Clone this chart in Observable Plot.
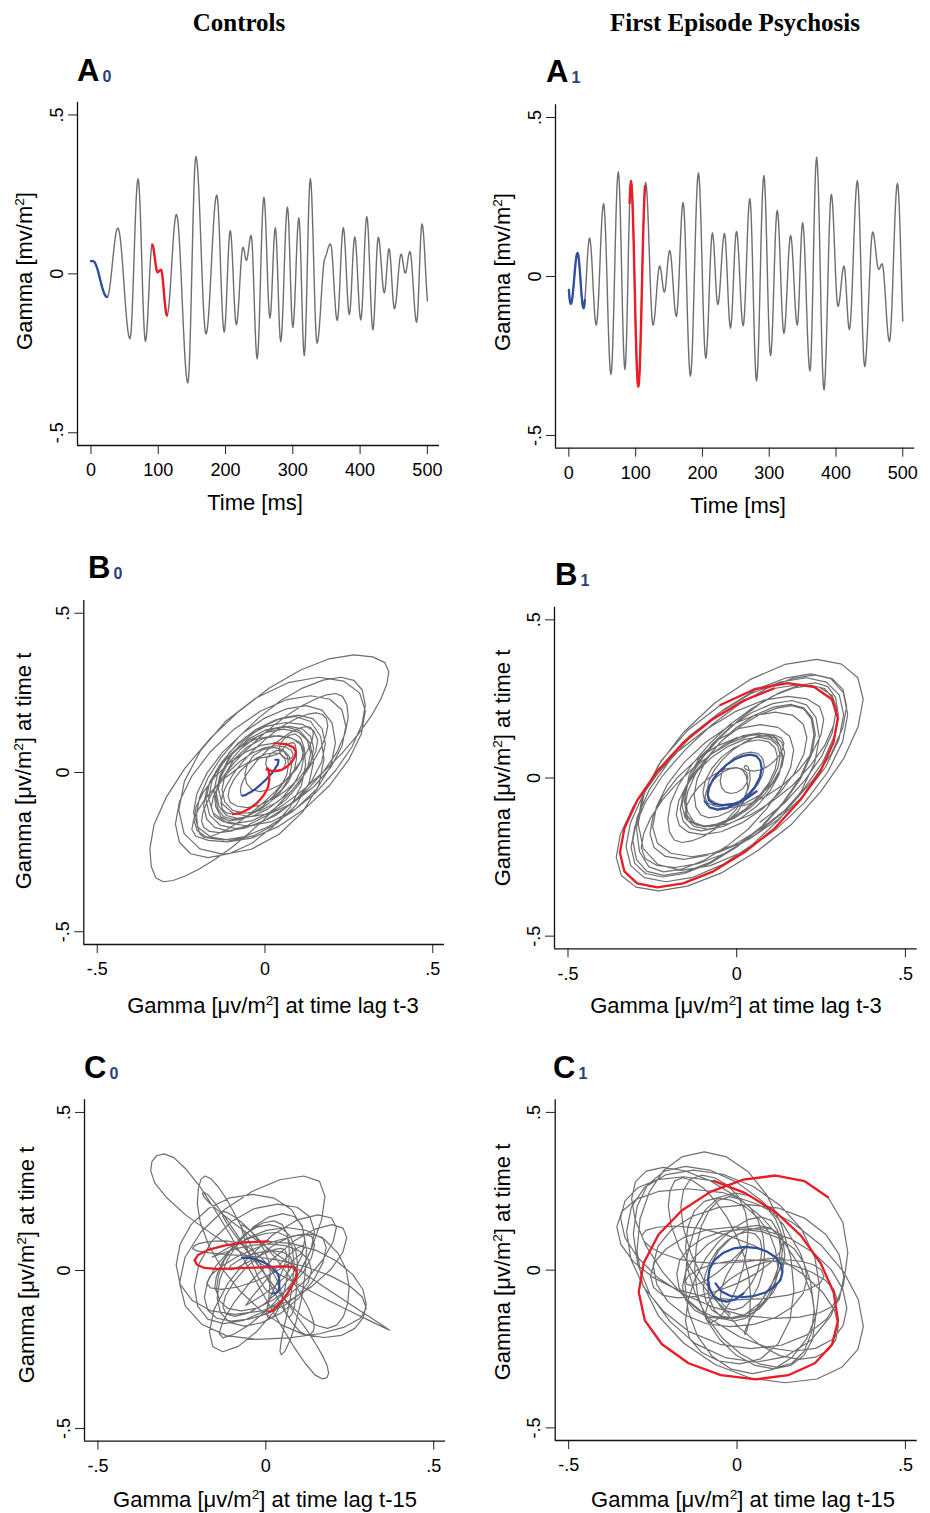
<!DOCTYPE html>
<html>
<head>
<meta charset="utf-8">
<script src="https://cdn.jsdelivr.net/npm/d3@7"></script>
<script src="https://cdn.jsdelivr.net/npm/@observablehq/plot@0.6"></script>
<style>
  html, body { margin: 0; padding: 0; background: #fff; }
  #fig { position: relative; width: 930px; height: 1513px; font-family: "Liberation Sans", Arial, sans-serif; color: #000; overflow: hidden; }
  .hdr { position: absolute; font-family: "Liberation Serif", "Times New Roman", serif; font-weight: bold; font-size: 25px; line-height: 1; transform: translate(-50%, -50%); white-space: nowrap; }
  .plab { position: absolute; font-weight: bold; font-size: 31px; line-height: 1; white-space: nowrap; }
  .plab .sub { font-size: 16px; color: #2c3e7c; margin-left: 3px; position: relative; top: 1px; }
  .xt { position: absolute; font-size: 22px; line-height: 1; transform: translate(-50%, -50%); white-space: nowrap; }
  .yt { position: absolute; font-size: 22px; line-height: 1; transform: translate(-50%, -50%) rotate(-90deg); white-space: nowrap; }
  sup { font-size: 0.62em; vertical-align: 0.62em; line-height: 0; }
  svg { position: absolute; }
</style>
</head>
<body>
<div id="fig"></div>
<script>
// ---------------- data (1 ms sampling) ----------------
const groups = ["Controls", "First Episode Psychosis"];
const timeTicks = [0, 100, 200, 300, 400, 500];
const gammaTicks = [-0.5, 0, 0.5];
const gammaTickLabels = ["-.5", "0", ".5"];
const lagB = 3;   // ms
const lagC = 15;  // ms

const preA0 = [-.071,-.068,-.063,-.056,-.047,-.037,-.027,-.016,-.005,.005,.015,.024,.031,.036,.039];
// Controls, gamma at t = 0 .. 500 ms
const A0 = [
 .040,.040,.040,.040,.039,.038,.034,.030,.025,.019,
 .012,.004,-.004,-.012,-.021,-.029,-.037,-.045,-.052,-.058,
 -.063,-.067,-.071,-.072,-.073,-.071,-.065,-.055,-.041,-.025,
 -.006,.014,.036,.057,.077,.096,.112,.126,.136,.142,
 .144,.141,.133,.121,.103,.082,.057,.030,.000,-.030,
 -.060,-.090,-.117,-.142,-.163,-.181,-.193,-.201,-.204,-.195,
 -.170,-.131,-.078,-.017,.047,.112,.173,.226,.265,.290,
 .299,.289,.259,.211,.151,.080,.007,-.064,-.124,-.172,
 -.202,-.212,-.205,-.183,-.149,-.107,-.060,-.013,.029,.063,
 .085,.092,.089,.079,.065,.049,.032,.018,.008,.005,
 .006,.008,.010,.012,.013,.009,-.004,-.023,-.047,-.072,
 -.095,-.114,-.127,-.131,-.127,-.115,-.096,-.071,-.041,-.007,
 .028,.063,.097,.127,.152,.171,.183,.187,.182,.169,
 .147,.118,.082,.040,-.006,-.054,-.102,-.151,-.196,-.238,
 -.274,-.303,-.325,-.339,-.343,-.331,-.295,-.239,-.165,-.079,
 .013,.105,.191,.265,.321,.357,.369,.363,.345,.316,
 .277,.230,.176,.119,.061,.004,-.050,-.097,-.136,-.165,
 -.183,-.189,-.185,-.172,-.152,-.125,-.092,-.054,-.013,.030,
 .072,.113,.151,.184,.211,.231,.244,.248,.239,.214,
 .174,.123,.063,.002,-.058,-.109,-.149,-.174,-.183,-.173,
 -.146,-.103,-.051,.004,.056,.099,.126,.136,.127,.101,
 .062,.014,-.038,-.086,-.125,-.151,-.160,-.154,-.137,-.110,
 -.076,-.038,.000,.034,.061,.078,.084,.080,.070,.056,
 .046,.042,.046,.057,.073,.090,.106,.117,.121,.109,
 .076,.024,-.039,-.107,-.170,-.222,-.255,-.267,-.255,-.219,
 -.162,-.092,-.013,.066,.136,.193,.229,.241,.230,.197,
 .146,.084,.018,-.044,-.095,-.128,-.139,-.128,-.098,-.051,
 .003,.057,.104,.134,.145,.131,.093,.034,-.034,-.102,
 -.161,-.199,-.213,-.203,-.173,-.126,-.067,-.002,.064,.123,
 .170,.200,.210,.196,.155,.093,.021,-.051,-.113,-.154,
 -.168,-.158,-.128,-.082,-.026,.034,.090,.136,.166,.176,
 .160,.113,.042,-.041,-.123,-.194,-.241,-.257,-.240,-.192,
 -.118,-.027,.069,.160,.234,.282,.299,.287,.250,.193,
 .121,.041,-.040,-.112,-.169,-.206,-.218,-.213,-.200,-.179,
 -.151,-.119,-.084,-.049,-.017,.011,.032,.045,.050,.056,
 .062,.070,.078,.085,.090,.093,.094,.088,.071,.044,
 .011,-.027,-.064,-.097,-.124,-.141,-.147,-.138,-.113,-.074,
 -.026,.024,.072,.111,.136,.145,.137,.113,.077,.032,
 -.015,-.060,-.096,-.120,-.128,-.119,-.092,-.053,-.006,.041,
 .080,.107,.116,.108,.086,.051,.008,-.037,-.080,-.115,
 -.137,-.145,-.135,-.107,-.064,-.011,.046,.099,.142,.170,
 .180,.169,.138,.091,.033,-.029,-.087,-.134,-.165,-.176,
 -.165,-.134,-.086,-.031,.025,.073,.104,.115,.110,.095,
 .071,.043,.012,-.016,-.040,-.055,-.060,-.053,-.034,-.006,
 .025,.053,.072,.079,.072,.051,.021,-.016,-.052,-.082,
 -.103,-.110,-.106,-.094,-.075,-.051,-.024,.003,.027,.046,
 .058,.062,.058,.047,.032,.017,.006,.002,.005,.015,
 .028,.044,.057,.067,.070,.065,.049,.024,-.007,-.041,
 -.075,-.106,-.131,-.147,-.152,-.140,-.107,-.057,.003,.062,
 .112,.145,.157,.151,.132,.102,.065,.024,-.018,-.055,
 -.085
];

const preA1 = [-.064,-.046,-.019,.015,.050,.084,.111,.129,.135,.130,.114,.089,.059,.025,-.010];
// First Episode Psychosis, gamma at t = 0 .. 500 ms
const A1 = [
 -.042,-.068,-.082,-.086,-.082,-.071,-.053,-.031,-.006,.019,
 .041,.059,.070,.074,.069,.054,.031,.002,-.028,-.057,
 -.080,-.095,-.100,-.093,-.074,-.045,-.009,.030,.066,.095,
 .114,.121,.114,.095,.065,.027,-.016,-.059,-.097,-.127,
 -.146,-.153,-.145,-.123,-.087,-.043,.011,.065,.119,.163,
 .199,.221,.229,.218,.187,.137,.074,-.001,-.078,-.153,
 -.216,-.266,-.297,-.308,-.295,-.258,-.198,-.124,-.035,.056,
 .145,.219,.279,.316,.329,.314,.270,.201,.115,.019,
 -.078,-.164,-.233,-.277,-.292,-.274,-.223,-.144,-.048,.056,
 .152,.231,.282,.300,.287,.249,.189,.113,.023,-.069,
 -.159,-.235,-.295,-.333,-.346,-.333,-.295,-.236,-.160,-.071,
 .021,.110,.186,.245,.283,.296,.287,.261,.219,.166,
 .103,.040,-.023,-.076,-.117,-.144,-.153,-.149,-.135,-.115,
 -.089,-.060,-.031,-.005,.015,.029,.033,.029,.018,.001,
 -.017,-.034,-.045,-.049,-.044,-.030,-.009,.017,.042,.063,
 .077,.082,.077,.062,.039,.010,-.022,-.054,-.083,-.106,
 -.121,-.126,-.117,-.092,-.052,-.002,.054,.109,.159,.199,
 .224,.233,.222,.190,.139,.075,-.001,-.079,-.155,-.219,
 -.270,-.302,-.313,-.302,-.270,-.220,-.153,-.076,.007,.089,
 .166,.233,.283,.315,.326,.314,.280,.226,.158,.076,
 -.007,-.089,-.157,-.211,-.245,-.257,-.248,-.220,-.176,-.121,
 -.060,.001,.056,.100,.128,.137,.128,.104,.067,.025,
 -.019,-.055,-.080,-.088,-.083,-.067,-.042,-.011,.024,.058,
 .089,.114,.130,.135,.126,.100,.061,.012,-.039,-.088,
 -.127,-.153,-.162,-.153,-.126,-.086,-.036,.016,.066,.106,
 .133,.142,.135,.114,.081,.040,-.007,-.053,-.094,-.127,
 -.148,-.155,-.145,-.117,-.073,-.017,.045,.107,.163,.207,
 .235,.245,.231,.191,.127,.047,-.042,-.130,-.210,-.274,
 -.314,-.328,-.315,-.277,-.217,-.142,-.051,.040,.131,.206,
 .266,.304,.317,.303,.263,.200,.122,.034,-.054,-.132,
 -.195,-.235,-.249,-.238,-.206,-.155,-.091,-.021,.050,.114,
 .165,.197,.208,.199,.171,.128,.075,.015,-.046,-.099,
 -.142,-.170,-.179,-.172,-.150,-.116,-.073,-.025,.023,.066,
 .100,.122,.129,.122,.102,.071,.032,-.012,-.056,-.095,
 -.126,-.146,-.153,-.141,-.106,-.054,.008,.070,.122,.157,
 .169,.160,.132,.089,.034,-.031,-.097,-.162,-.217,-.260,
 -.288,-.297,-.281,-.233,-.159,-.065,.039,.143,.237,.311,
 .359,.375,.360,.317,.249,.163,.061,-.043,-.146,-.231,
 -.299,-.342,-.357,-.345,-.308,-.251,-.179,-.093,-.006,.080,
 .152,.209,.246,.258,.250,.225,.186,.137,.082,.027,
 -.022,-.061,-.086,-.094,-.090,-.079,-.062,-.042,-.020,.001,
 .018,.029,.033,.025,.004,-.029,-.067,-.105,-.138,-.159,
 -.167,-.159,-.136,-.099,-.050,.007,.067,.127,.184,.233,
 .270,.293,.301,.289,.255,.201,.132,.050,-.032,-.114,
 -.183,-.237,-.271,-.283,-.276,-.255,-.221,-.177,-.126,-.071,
 -.017,.034,.078,.112,.133,.140,.136,.126,.110,.091,
 .071,.052,.036,.026,.022,.024,.028,.034,.038,.040,
 .035,.021,-.002,-.031,-.065,-.099,-.134,-.162,-.185,-.199,
 -.204,-.196,-.171,-.131,-.080,-.020,.045,.109,.169,.220,
 .260,.285,.293,.283,.252,.203,.142,.069,-.006,-.079,
 -.140
];

// highlighted windows (ms)
const blueWindow0 = [0, 24];
const redWindow0  = [91, 113];
const blueWindow1 = [0, 24];
const redWindow1  = [91, 114];

// ---------------- helpers ----------------
const GRAY = "#6e6e6e", BLUE = "#2f4e9e", RED = "#ec1c24";
const gFmt = d => gammaTickLabels[gammaTicks.indexOf(d)];
const tFmt = d => String(d);

function buildSeries(pre, vals) {
  const out = [];
  pre.forEach((v, i) => out.push({t: i - pre.length, v}));
  vals.forEach((v, i) => out.push({t: i, v}));
  return out;
}
function embed(series, lag, t0, t1) {
  const byT = new Map(series.map(d => [d.t, d.v]));
  return series.filter(d => d.t >= t0 && d.t <= t1 && byT.has(d.t - lag))
               .map(d => ({t: d.t, x: byT.get(d.t - lag), y: d.v}));
}
function windowOf(series, w) { return series.filter(d => d.t >= w[0] && d.t <= w[1]); }

const S0 = buildSeries(preA0, A0);
const S1 = buildSeries(preA1, A1);
const sets = [
  {S: S0, blue: blueWindow0, red: redWindow0},
  {S: S1, blue: blueWindow1, red: redWindow1}
];

const fig = document.getElementById("fig");
function addDiv(cls, html, left, top) {
  const d = document.createElement("div");
  d.className = cls; d.innerHTML = html;
  d.style.left = left + "px"; d.style.top = top + "px";
  fig.appendChild(d);
}

function drawPanel(cfg) {
  const {left, top, width, height, frame, xDomain, yDomain, xTicks, xFmt, marks} = cfg;
  const svg = Plot.plot({
    width, height,
    marginLeft: frame[0] - left,
    marginRight: left + width - frame[1],
    marginTop: frame[2] - top,
    marginBottom: top + height - frame[3],
    x: {domain: xDomain, label: null},
    y: {domain: yDomain, label: null},
    style: {fontFamily: '"Liberation Sans", Arial, sans-serif', fontSize: "18px", color: "#000", background: "transparent", overflow: "visible"},
    marks: [
      ...marks,
      Plot.axisX(xTicks, {tickSize: 9, tickPadding: 9, tickFormat: xFmt, label: null, fontSize: 18, stroke: "#222"}),
      Plot.axisY(gammaTicks, {tickSize: 9, tickPadding: 6, tickRotate: -90, tickFormat: gFmt, label: null, fontSize: 18, stroke: "#222"}),
      Plot.ruleX([xDomain[0]], {stroke: "#111", strokeWidth: 1.3}),
      Plot.ruleY([yDomain[0]], {stroke: "#111", strokeWidth: 1.3})
    ]
  });
  svg.style.position = "absolute";
  svg.style.left = left + "px";
  svg.style.top = top + "px";
  fig.appendChild(svg);
}

// ---------------- layout ----------------
const colLeft = [0, 465];
const layoutA = [
  {frame: [77, 439, 101.7, 445]},
  {frame: [555, 914.3, 104.3, 447.7]}
];
const layoutB = [
  {frame: [83.3, 444, 600, 944]},
  {frame: [554, 916.7, 606.7, 948.3]}
];
const layoutC = [
  {frame: [84, 445, 1099.3, 1440.7]},
  {frame: [554.7, 916.7, 1099.3, 1440]}
];
const domA = {x: [-20, 518], y: [-0.54, 0.54]};
const domBC = {x: [-0.54, 0.535], y: [-0.54, 0.54]};

const lineOpts = (stroke, w) => ({x: "t", y: "v", stroke, strokeWidth: w, strokeLinejoin: "round", strokeLinecap: "round"});
const loopOpts = (stroke, w) => ({x: "x", y: "y", stroke, strokeWidth: w, strokeLinejoin: "round", strokeLinecap: "round"});

[0, 1].forEach(g => {
  const {S, blue, red} = sets[g];
  const main = S.filter(d => d.t >= 0);
  // A: time series
  drawPanel({
    left: colLeft[g], top: 88, width: 465, height: 404, frame: layoutA[g].frame,
    xDomain: domA.x, yDomain: domA.y, xTicks: timeTicks, xFmt: tFmt,
    marks: [
      Plot.line(main, lineOpts(GRAY, 1.4)),
      Plot.line(windowOf(S, blue), lineOpts(BLUE, 2.3)),
      Plot.line(windowOf(S, red), lineOpts(RED, 2.4))
    ]
  });
  // B and C: delay embeddings
  [[lagB, layoutB[g], 588], [lagC, layoutC[g], 1088]].forEach(([lag, lay, top]) => {
    drawPanel({
      left: colLeft[g], top, width: 465, height: 404, frame: lay.frame,
      xDomain: domBC.x, yDomain: domBC.y, xTicks: gammaTicks, xFmt: gFmt,
      marks: [
        Plot.line(embed(S, lag, 0, 500), loopOpts(GRAY, 1.2)),
        Plot.line(embed(S, lag, blue[0], blue[1]), loopOpts(BLUE, 2.2)),
        Plot.line(embed(S, lag, red[0], red[1]), loopOpts(RED, 2.3))
      ]
    });
  });
});

// ---------------- text ----------------
addDiv("hdr", groups[0], 239, 22);
addDiv("hdr", groups[1], 735, 22);

const plabs = [
  ["A", "0", 77, 54.8], ["A", "1", 546, 55.5],
  ["B", "0", 88, 552.1], ["B", "1", 555, 559],
  ["C", "0", 84, 1052.3], ["C", "1", 553, 1052.3]
];
plabs.forEach(([L, s, x, y]) => addDiv("plab", L + '<span class="sub">' + s + '</span>', x, y));

const yA = "Gamma [mv/m<sup>2</sup>]";
const yBC = "Gamma [\u03bcv/m<sup>2</sup>] at time t";
addDiv("yt", yA, 25, 271);
addDiv("yt", yA, 503, 272);
addDiv("yt", yBC, 24, 771);
addDiv("yt", yBC, 503, 768);
addDiv("yt", yBC, 27, 1265);
addDiv("yt", yBC, 503, 1262);

addDiv("xt", "Time [ms]", 255, 503);
addDiv("xt", "Time [ms]", 738, 506);
addDiv("xt", "Gamma [\u03bcv/m<sup>2</sup>] at time lag t-" + lagB, 273, 1006);
addDiv("xt", "Gamma [\u03bcv/m<sup>2</sup>] at time lag t-" + lagB, 736, 1006);
addDiv("xt", "Gamma [\u03bcv/m<sup>2</sup>] at time lag t-" + lagC, 265, 1500);
addDiv("xt", "Gamma [\u03bcv/m<sup>2</sup>] at time lag t-" + lagC, 743, 1500);
</script>
</body>
</html>
